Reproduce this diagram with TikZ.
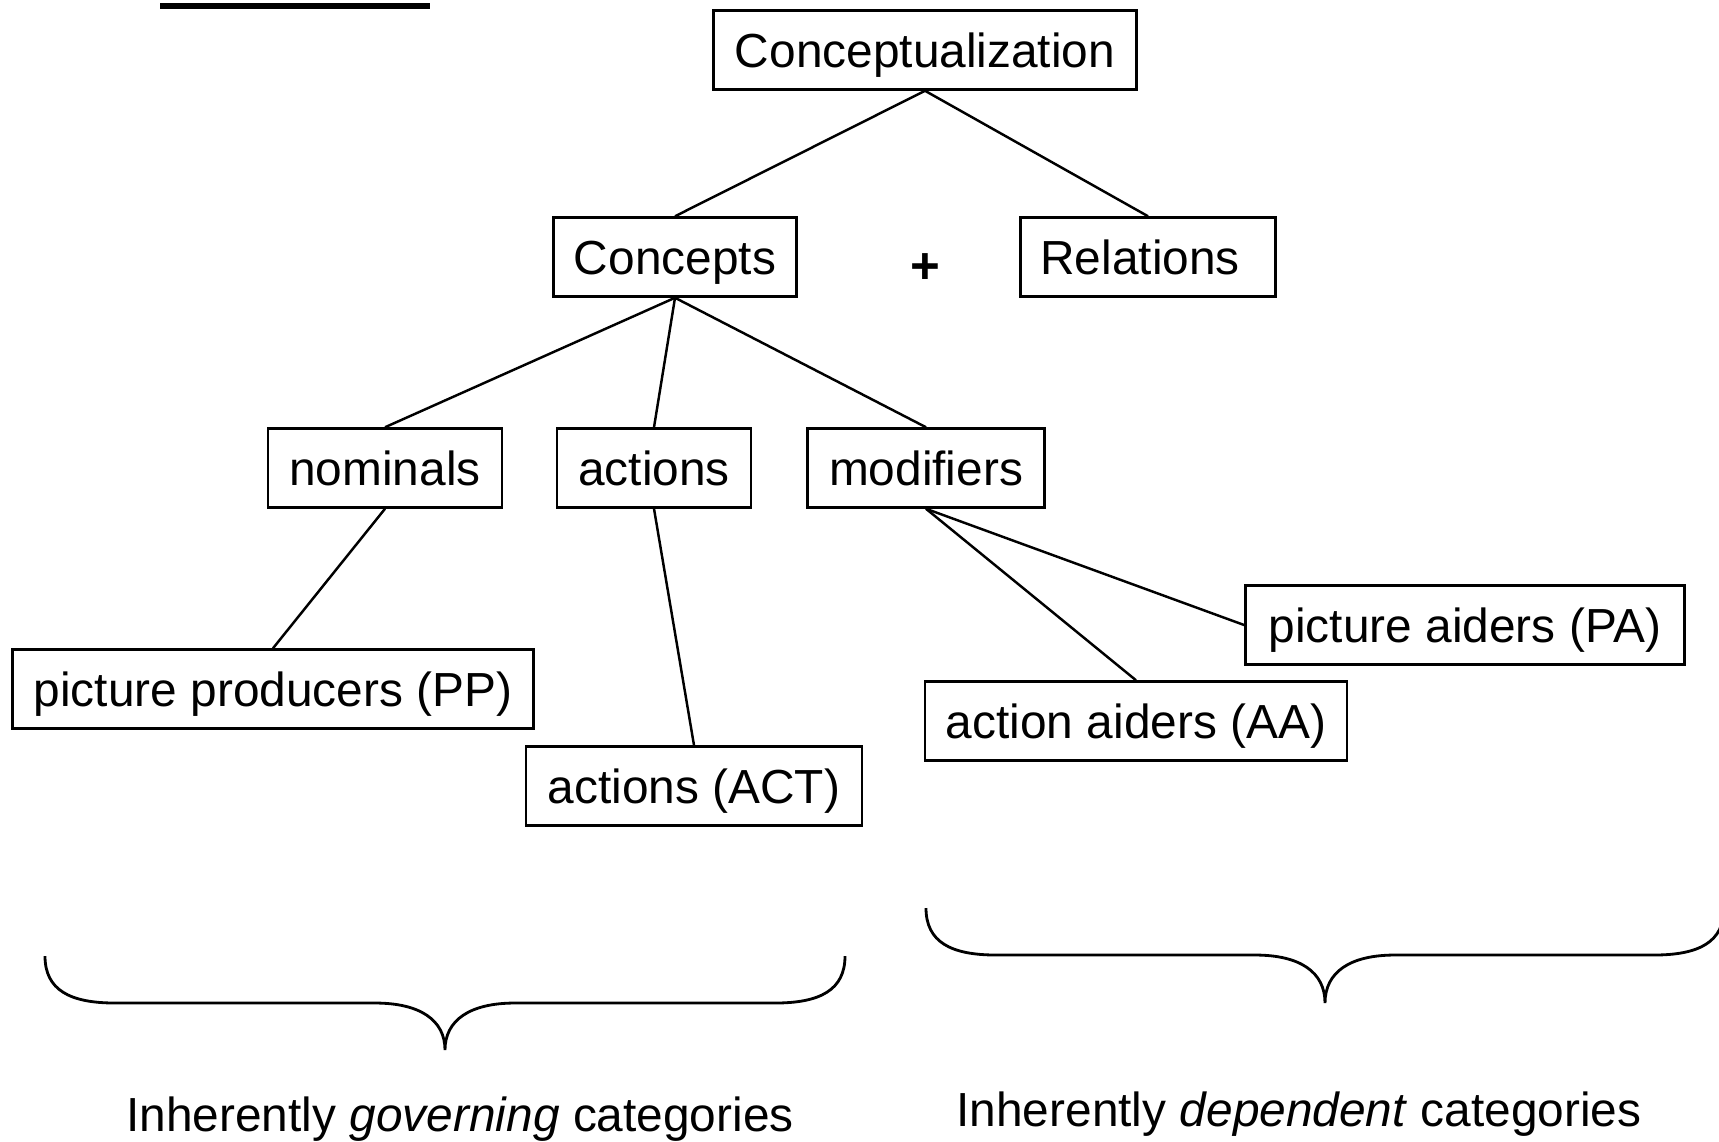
\documentclass[tikz,border=0pt]{standalone}
\usepackage{fontspec}
\setmainfont{Liberation Sans}
\usepackage{tikz}
\tikzset{
	catbox/.style={draw, line width=0.7pt, minimum height=0.79cm, inner xsep=0.2cm, inner ysep=0pt, text height=0.44cm, text depth=0.1cm, font=\fontsize{13.6}{16}\selectfont},
	catline/.style={line width=0.7pt},
	catbrace/.style={line width=0.8pt}
}

\begin{document}
\begin{tikzpicture}[x=0.01cm, y=-0.01cm]
		%%%%% START %%%%%
		\clip (0, 0) rectangle (1719, 1141);
		
		\fill (160, 3) rectangle (430, 9);
		
		\node[catbox, minimum width=4.23cm] (concept) at (925, 50) {Conceptualization};
		
		\node[catbox, minimum width=2.43cm] (concepts) at (675, 257) {Concepts};
		\node[font=\fontsize{14.5}{16}\selectfont\bfseries] (plus) at (925, 269) {+};
		\node[catbox, text width=2.15cm, align=left] (relations) at (1148, 257) {Relations};
		
		\node[catbox, minimum width=2.34cm] (nominals) at (385, 468) {nominals};
		\node[catbox, minimum width=1.94cm] (actions) at (654, 468) {actions};
		\node[catbox, minimum width=2.37cm] (modifiers) at (926, 468) {modifiers};
		
		\node[catbox, minimum width=5.21cm] (pp) at (273, 689) {picture producers (PP)};
		\node[catbox, minimum width=3.36cm] (act) at (694, 786) {actions (ACT)};
		\node[catbox, minimum width=4.22cm] (aa) at (1136, 721) {action aiders (AA)};
		\node[catbox, minimum width=4.39cm] (pa) at (1465, 625) {picture aiders (PA)};
		
		\draw[catline] (concept.south) -- (concepts.north);
		\draw[catline] (concept.south) -- (relations.north);
		
		\draw[catline] (concepts.south) -- (nominals.north);
		\draw[catline] (concepts.south) -- (actions.north);
		\draw[catline] (concepts.south) -- (modifiers.north);
		
		\draw[catline] (nominals.south) -- (pp.north);
		\draw[catline] (actions.south) -- (act.north);
		\draw[catline] (modifiers.south) -- (aa.north);
		\draw[catline] (modifiers.south) -- (pa.west);
		
		% braces
		\draw[catbrace] (45, 956) .. controls (45, 990) and (70, 1003) .. (115, 1003) -- (375, 1003)
			.. controls (420, 1003) and (445, 1020) .. (445, 1050)
			.. controls (445, 1020) and (470, 1003) .. (515, 1003) -- (775, 1003)
			.. controls (820, 1003) and (845, 990) .. (845, 956);
		\draw[catbrace] (926, 908) .. controls (926, 942) and (951, 955) .. (996, 955) -- (1255, 955)
			.. controls (1300, 955) and (1325, 972) .. (1325, 1003)
			.. controls (1325, 972) and (1350, 955) .. (1395, 955) -- (1654, 955)
			.. controls (1699, 955) and (1724, 942) .. (1724, 908);
		
		\node[font=\fontsize{13.6}{16}\selectfont] (gov) at (460, 1119) {Inherently \textit{governing} categories};
		\node[font=\fontsize{13.6}{16}\selectfont] (dep) at (1299, 1114) {Inherently \textit{dependent} categories};
		%%%%% END %%%%%
	\end{tikzpicture}
\end{document}
